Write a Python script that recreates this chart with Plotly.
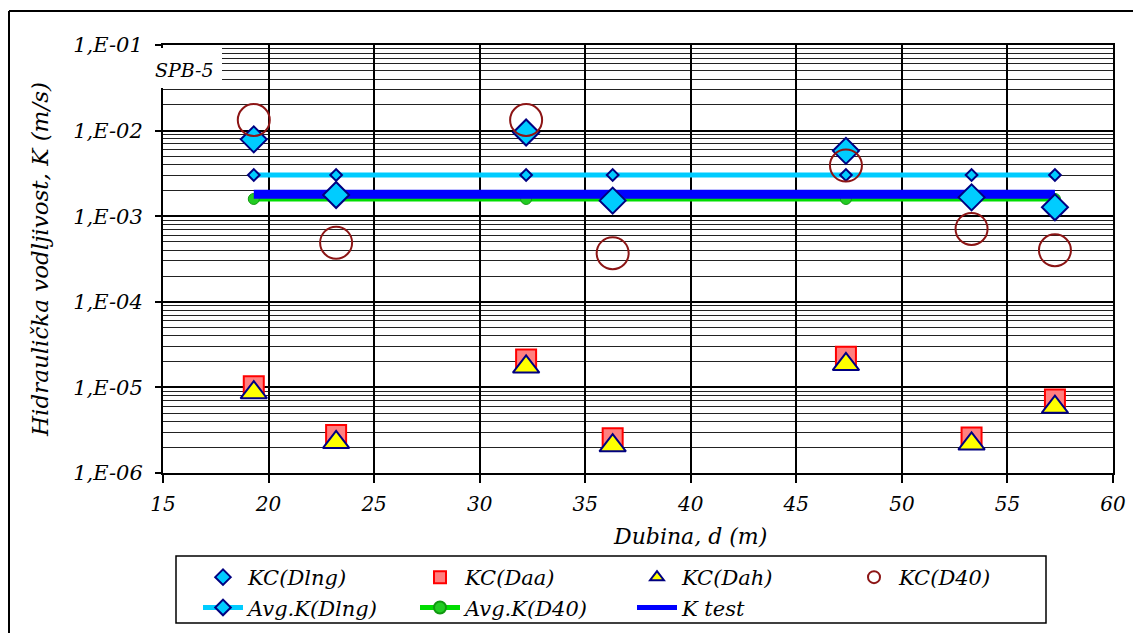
import plotly.graph_objects as go

# ---------------- data ----------------
depth = [19.3, 23.2, 32.2, 36.3, 47.35, 53.3, 57.25]
kc_dlng = [7.9e-3, 1.77e-3, 9.5e-3, 1.52e-3, 5.8e-3, 1.66e-3, 1.27e-3]
kc_daa = [1.03e-5, 2.78e-6, 2.12e-5, 2.54e-6, 2.28e-5, 2.6e-6, 7.2e-6]
kc_dah = [8.7e-6, 2.28e-6, 1.74e-5, 2.09e-6, 1.86e-5, 2.19e-6, 5.9e-6]
kc_d40 = [1.33e-2, 4.9e-4, 1.33e-2, 3.7e-4, 3.9e-3, 7.1e-4, 4.0e-4]
avg_dlng = [3.03e-3, 3.03e-3, 3.03e-3, 3.03e-3, 3.03e-3, 3.03e-3, 3.03e-3]
avg_d40 = [1.59e-3, 1.59e-3, 1.59e-3, 1.59e-3, 1.59e-3, 1.59e-3, 1.59e-3]
k_test = [1.80e-3, 1.80e-3, 1.80e-3, 1.80e-3, 1.80e-3, 1.80e-3, 1.80e-3]

y_tickvals = [1e-6, 1e-5, 1e-4, 1e-3, 1e-2, 1e-1]
y_ticktext = ["1,E-06", "1,E-05", "1,E-04", "1,E-03", "1,E-02", "1,E-01"]
x_tickvals = [15, 20, 25, 30, 35, 40, 45, 50, 55, 60]

# ---------------- layout geometry ----------------
OFF = 8  # page body margin
W, H = 1141 - OFF, 633 - OFF
L, T = 155, 37
PW, PH = 950, 428
R, B = W - L - PW, H - T - PH


def px(xs):
    """screen x pixel -> paper x"""
    return (xs - OFF - L) / PW


def py(ys):
    """screen y pixel -> paper y"""
    return (H - B - (ys - OFF)) / PH


FONT = "DejaVu Serif"
NAVY = "#000080"

fig = go.Figure()

# lines first (drawn beneath markers)
fig.add_trace(go.Scatter(
    x=depth, y=avg_dlng, name="Avg.K(Dlng)", mode="lines+markers",
    line=dict(color="#00CCFF", width=5),
    marker=dict(symbol="diamond", size=9, color="#00CCFF", line=dict(color=NAVY, width=2)),
    legendrank=5))
fig.add_trace(go.Scatter(
    x=depth, y=avg_d40, name="Avg.K(D40)", mode="lines+markers",
    line=dict(color="#00DD00", width=5),
    marker=dict(symbol="circle", size=11, color="#22CC22", line=dict(color="#119911", width=1)),
    legendrank=6))
fig.add_trace(go.Scatter(
    x=depth, y=k_test, name="K test", mode="lines",
    line=dict(color="#0000FF", width=9),
    legendrank=7))
fig.add_trace(go.Scatter(
    x=depth, y=kc_daa, name="KC(Daa)", mode="markers",
    marker=dict(symbol="square", size=20, color="#FF8080", line=dict(color="#FF0000", width=2)),
    legendrank=2))
fig.add_trace(go.Scatter(
    x=depth, y=kc_dah, name="KC(Dah)", mode="markers",
    marker=dict(symbol="triangle-up", size=23, color="#FFFF00", line=dict(color=NAVY, width=2)),
    legendrank=3))
fig.add_trace(go.Scatter(
    x=depth, y=kc_dlng, name="KC(Dlng)", mode="markers",
    marker=dict(symbol="diamond", size=20, color="#00CCFF", line=dict(color=NAVY, width=2)),
    legendrank=1))
fig.add_trace(go.Scatter(
    x=depth, y=kc_d40, name="KC(D40)", mode="markers",
    marker=dict(symbol="circle-open", size=32, color="#8C1515", line=dict(color="#8C1515", width=2)),
    legendrank=4))

minor_vals = [m * 10 ** e for e in range(-6, -1) for m in range(2, 10)]

fig.update_xaxes(
    range=[15, 60], tickvals=x_tickvals, ticks="outside", ticklen=8, tickwidth=2,
    tickcolor="black", showgrid=True, gridcolor="black", gridwidth=2,
    showline=True, linecolor="black", linewidth=2, mirror=True, zeroline=False,
    tickfont=dict(family=FONT, size=20, color="black", style="italic"), ticklabelstandoff=4)
fig.update_yaxes(
    type="log", range=[-6, -1], tickvals=y_tickvals, ticktext=y_ticktext,
    ticks="outside", ticklen=6, tickwidth=2, tickcolor="black",
    showgrid=True, gridcolor="black", gridwidth=2,
    showline=True, linecolor="black", linewidth=2, mirror=True,
    minor=dict(tickvals=minor_vals, showgrid=True, gridcolor="#222222", gridwidth=1, ticks=""),
    tickfont=dict(family=FONT, size=21, color="black", style="italic"), ticklabelstandoff=8,
    title=dict(text="Hidraulička vodljivost, K (m/s)",
               font=dict(family=FONT, size=23, color="black", style="italic"), standoff=18))

shapes = [
    # label box (covers gridlines at top-left)
    dict(type="rect", xref="paper", yref="paper", x0=px(147), x1=px(222), y0=py(88), y1=py(48),
         fillcolor="white", line=dict(width=0), layer="above"),
    # legend frame
    dict(type="rect", xref="paper", yref="paper", x0=px(176), x1=px(1046), y0=py(623), y1=py(556),
         fillcolor="white", line=dict(color="black", width=1.5), layer="above"),
    # outer frame (left and top edges)
    dict(type="line", xref="paper", yref="paper", x0=px(9), x1=px(9), y0=py(11), y1=py(660),
         line=dict(color="black", width=2)),
    dict(type="line", xref="paper", yref="paper", x0=px(9), x1=px(1160), y0=py(11), y1=py(11),
         line=dict(color="black", width=2)),
]

fig.update_layout(
    width=W, height=H, margin=dict(l=L, r=R, t=T, b=B, autoexpand=False),
    paper_bgcolor="white", plot_bgcolor="white",
    shapes=shapes,
    annotations=[
        dict(text="SPB-5", xref="paper", yref="paper", x=px(184), y=py(70),
             showarrow=False, xanchor="center", yanchor="middle",
             font=dict(family=FONT, size=19, color="black", style="italic")),
        dict(text="Dubina, d (m)", xref="paper", yref="paper", x=px(690), y=py(536),
             showarrow=False, xanchor="center", yanchor="middle",
             font=dict(family=FONT, size=22, color="black", style="italic")),
    ],
    showlegend=True,
    legend=dict(orientation="h", x=px(198), y=py(557), xanchor="left", yanchor="top",
                bgcolor="rgba(0,0,0,0)", borderwidth=0, itemsizing="constant",
                entrywidth=162, entrywidthmode="pixels", itemwidth=40, tracegroupgap=0,
                font=dict(family=FONT, size=21, color="black", style="italic")),
)

fig.write_html("out.html")
